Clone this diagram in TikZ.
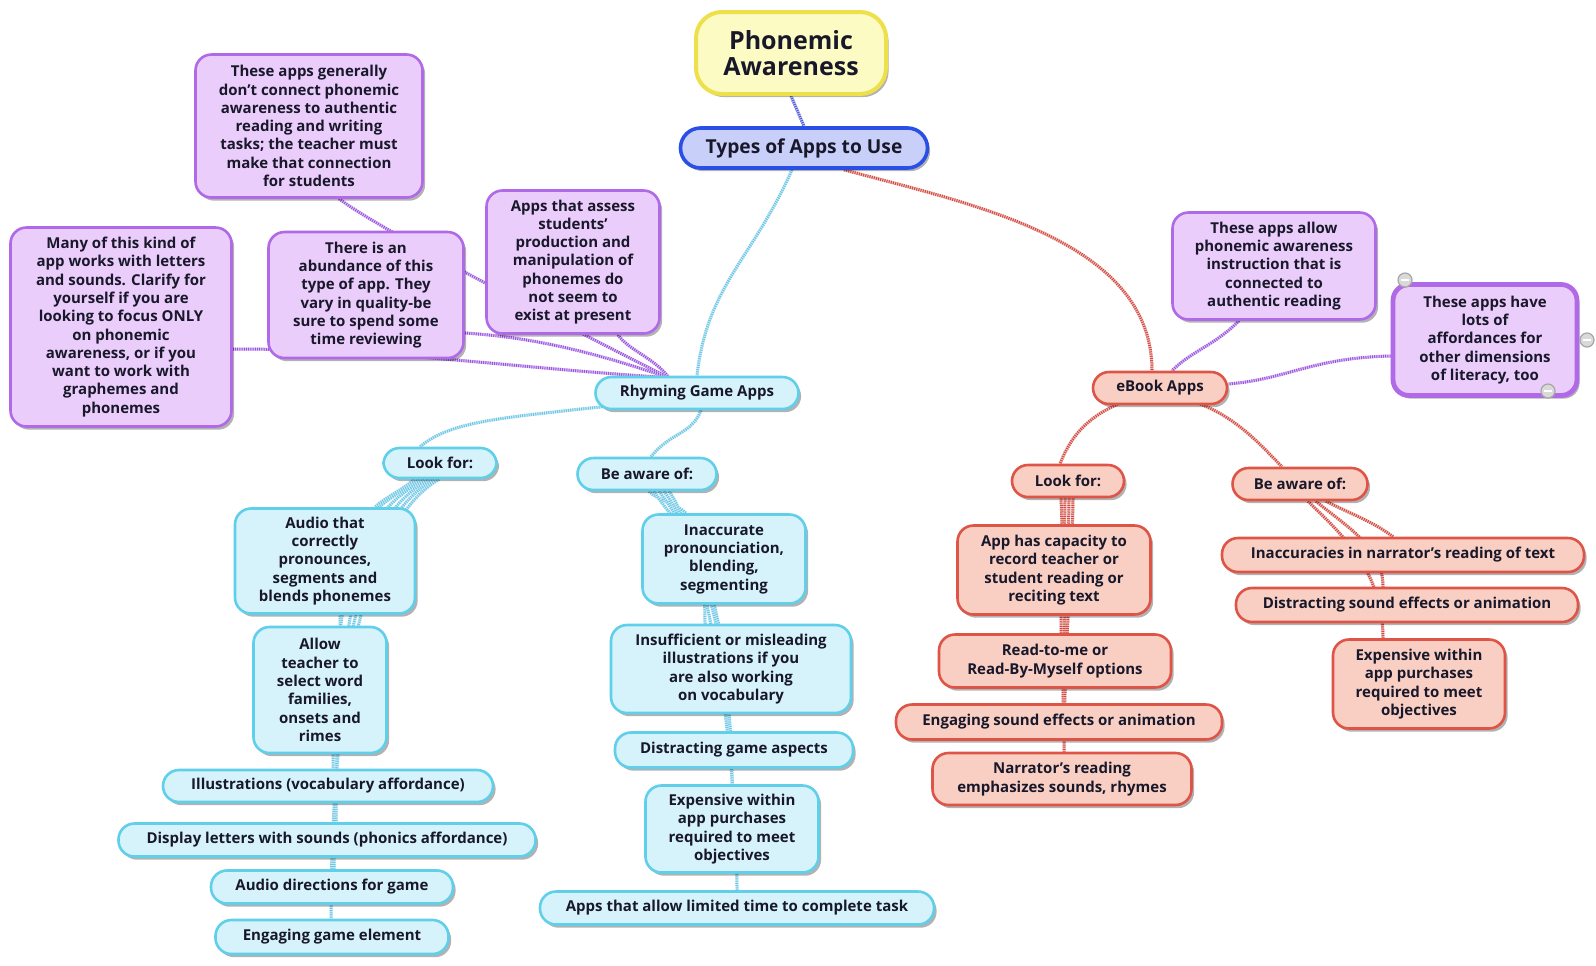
\documentclass[tikz,border=0pt]{standalone}
\usepackage{fontspec}
\setmainfont{Open Sans}
\usetikzlibrary{shadows,calc}

\definecolor{txt}{HTML}{18182A}
\definecolor{yfill}{HTML}{FDFBC4}
\definecolor{yline}{HTML}{EDE04A}
\definecolor{bfill}{HTML}{C8CFF9}
\definecolor{bline}{HTML}{2A4FE6}
\definecolor{cfill}{HTML}{D6F3FB}
\definecolor{cline}{HTML}{5FCFEA}
\definecolor{rfill}{HTML}{F9CFC3}
\definecolor{rline}{HTML}{DE5548}
\definecolor{pfill}{HTML}{EBCDFB}
\definecolor{pline}{HTML}{B06AE8}
\definecolor{ccon}{HTML}{6CC6E6}
\definecolor{rcon}{HTML}{D24A40}
\definecolor{pcon}{HTML}{9B55E0}
\definecolor{bcon}{HTML}{4A5AD6}

\pgfdeclarelayer{paper}
\pgfdeclarelayer{links}
\pgfsetlayers{paper,links,main}

\tikzset{
  box/.style={draw, line width=1.3pt, rounded corners=8pt, align=center, inner sep=0pt,
    text=txt, font=\bfseries\fontsize{7.5}{9.15}\selectfont,
    drop shadow={shadow xshift=1.3pt, shadow yshift=-1.6pt, opacity=.3, fill=black}},
  sz/.style 2 args={minimum width=#1*0.5pt, minimum height=#2*0.5pt},
  cy/.style={box, fill=cfill, draw=cline},
  rd/.style={box, fill=rfill, draw=rline},
  pu/.style={box, fill=pfill, draw=pline},
  conn/.style={line width=1.5pt, draw=#1!35,
    postaction={draw=#1, line width=1.5pt, dash pattern=on 0.5pt off 0.6pt}},
  knob/.style={circle, draw=gray!70, fill=gray!30, line width=0.6pt, minimum size=7pt, inner sep=0pt}
}

\begin{document}
\begin{tikzpicture}[x=0.5pt,y=-0.5pt]
\useasboundingbox (0,0) rectangle (1596,965);
\begin{pgfonlayer}{paper}
  \fill[white] (0,0) rectangle (1596,965);
\end{pgfonlayer}

% central topic and main branch
\node[box, fill=yfill, draw=yline, line width=2pt, rounded corners=13pt, sz={190}{82},
      font=\bfseries\fontsize{12.5}{13}\selectfont] (pa) at (791,53) {Phonemic\\Awareness};
\node[box, fill=bfill, draw=bline, line width=1.8pt, rounded corners=10pt, sz={247}{40},
      font=\bfseries\fontsize{9.6}{11}\selectfont] (types) at (804,148) {Types of Apps to Use};

\path
  node[cy, sz={203}{32}] (rhy) at (697,393) {Rhyming Game Apps}
  node[rd, sz={134}{32}] (eb) at (1160,388) {eBook Apps}
  % notes around the rhyming branch
  node[pu, sz={227}{143}] (p1) at (309,126) {These apps generally\\don't connect phonemic\\awareness to authentic\\reading and writing\\tasks; the teacher must\\make that connection\\for students}
  node[pu, sz={221}{199}] (p2) at (121,327) {Many of this kind of\\app works with letters\\and sounds. Clarify for\\yourself if you are\\looking to focus ONLY\\on phonemic\\awareness, or if you\\want to work with\\graphemes and\\phonemes}
  node[pu, sz={195}{126}] (p3) at (366,295) {There is an\\abundance of this\\type of app. They\\vary in quality-be\\sure to spend some\\time reviewing}
  node[pu, sz={173}{143}] (p4) at (573,262) {Apps that assess\\students'\\production and\\manipulation of\\phonemes do\\not seem to\\exist at present}
  % notes around the eBook branch
  node[pu, sz={203}{107}] (p5) at (1274,266) {These apps allow\\phonemic awareness\\instruction that is\\connected to\\authentic reading}
  node[pu, line width=2.4pt, sz={184}{111}] (p6) at (1485,340) {These apps have\\lots of\\affordances for\\other dimensions\\of literacy, too}
  % rhyming: look for
  node[cy, sz={113}{30}] (lf) at (440,463) {Look for:}
  node[cy, sz={180}{105}] (a1) at (325,561) {Audio that\\correctly\\pronounces,\\segments and\\blends phonemes}
  node[cy, sz={133}{126}] (a2) at (320,690) {Allow\\teacher to\\select word\\families,\\onsets and\\rimes}
  node[cy, sz={330}{32}] (a3) at (328,786) {Illustrations (vocabulary affordance)}
  node[cy, sz={417}{33}] (a4) at (327,840) {Display letters with sounds (phonics affordance)}
  node[cy, sz={242}{33}] (a5) at (332,887) {Audio directions for game}
  node[cy, sz={233}{34}] (a6) at (332,937) {Engaging game element}
  % rhyming: be aware of
  node[cy, sz={139}{32}] (ba) at (647,474) {Be aware of:}
  node[cy, sz={163}{89}] (b1) at (724,559) {Inaccurate\\pronounciation,\\blending,\\segmenting}
  node[cy, sz={240}{88}] (b2) at (731,669) {Insufficient or misleading\\illustrations if you\\are also working\\on vocabulary}
  node[cy, sz={238}{35}] (b3) at (734,750) {Distracting game aspects}
  node[cy, sz={173}{87}] (b4) at (732,829) {Expensive within\\app purchases\\required to meet\\objectives}
  node[cy, sz={394}{33}] (b5) at (737,908) {Apps that allow limited time to complete task}
  % eBook: look for
  node[rd, sz={112}{32}] (rl) at (1068,481) {Look for:}
  node[rd, sz={193}{89}] (r1) at (1054,570) {App has capacity to\\record teacher or\\student reading or\\reciting text}
  node[rd, sz={232}{53}] (r2) at (1055,661) {Read-to-me or\\Read-By-Myself options}
  node[rd, sz={326}{35}] (r3) at (1059,722) {Engaging sound effects or animation}
  node[rd, sz={259}{52}] (r4) at (1062,779) {Narrator's reading\\emphasizes sounds, rhymes}
  % eBook: be aware of
  node[rd, sz={135}{32}] (rb) at (1300,484) {Be aware of:}
  node[rd, sz={362}{34}] (s1) at (1403,555) {Inaccuracies in narrator's reading of text}
  node[rd, sz={342}{34}] (s2) at (1407,605) {Distracting sound effects or animation}
  node[rd, sz={172}{89}] (s3) at (1419,684) {Expensive within\\app purchases\\required to meet\\objectives};

% collapse knobs on the selected note
\node[knob] (k1) at (1405,280) {};
\node[knob] (k2) at (1587,340) {};
\node[knob] (k3) at (1548,391) {};
\foreach \k in {k1,k2,k3} \draw[white, line width=0.6pt] ($(\k)+(-4,0)$) -- ($(\k)+(4,0)$);

\begin{pgfonlayer}{links}
  % trunk
  \draw[conn=bcon] (pa.south) -- (types.north);
  \draw[conn=ccon] ($(types.south)+(-12,0)$) .. controls +(-40,90) and +(10,-90) .. (rhy.north);
  \draw[conn=rcon] ($(types.south)+(40,0)$) .. controls +(130,35) and +(0,-130) .. ($(eb.north)+(-8,0)$);
  % notes to the rhyming branch
  \coordinate (rin) at ($(rhy.north)+(-28,2)$);
  \draw[conn=pcon] ($(p1.south)+(30,0)$) .. controls +(40,30) and +(-120,-60) .. (rin);
  \draw[conn=pcon] ($(p2.east)+(0,22)$) .. controls +(160,0) and +(-160,-10) .. (rin);
  \draw[conn=pcon] ($(p3.east)+(0,38)$) .. controls +(80,5) and +(-60,-20) .. (rin);
  \draw[conn=pcon] ($(p4.south)+(45,0)$) .. controls +(10,15) and +(-15,-20) .. (rin);
  % notes to the eBook branch
  \draw[conn=pcon] ($(p5.south)+(-35,0)$) .. controls +(-25,25) and +(20,-20) .. ($(eb.north)+(12,0)$);
  \draw[conn=pcon] ($(p6.west)+(0,16)$) .. controls +(-80,2) and +(60,-5) .. ($(eb.east)+(0,-4)$);
  % rhyming branch
  \draw[conn=ccon] ($(rhy.south west)+(12,-4)$) .. controls +(-110,12) and +(30,-25) .. ($(lf.north)+(-20,0)$);
  \draw[conn=ccon] ($(rhy.south)+(4,0)$) .. controls +(-10,25) and +(20,-25) .. ($(ba.north)+(4,0)$);
  % look for (rhyming)
  \draw[conn=ccon] ($(lf.south)+(-26,0)$) .. controls +(-10,10) and +(10,-10) .. ($(a1.north)+(50,0)$);
  \draw[conn=ccon] ($(lf.south)+(-21,0)$) .. controls +(-60,40) and +(0,-100) .. ($(a2.north)+(20,0)$);
  \draw[conn=ccon] ($(lf.south)+(-16,0)$) .. controls +(-70,40) and +(0,-180) .. ($(a3.north)+(5,0)$);
  \draw[conn=ccon] ($(lf.south)+(-11,0)$) .. controls +(-70,40) and +(0,-200) .. ($(a4.north)+(9,0)$);
  \draw[conn=ccon] ($(lf.south)+(-6,0)$) .. controls +(-70,40) and +(0,-220) .. ($(a5.north)+(2,0)$);
  \draw[conn=ccon] ($(lf.south)+(-1,0)$) .. controls +(-70,40) and +(0,-240) .. ($(a6.north)+(-1,0)$);
  % be aware of (rhyming)
  \draw[conn=ccon] ($(ba.south)+(2,0)$) .. controls +(10,10) and +(-10,-10) .. ($(b1.north)+(-38,0)$);
  \draw[conn=ccon] ($(ba.south)+(7,0)$) .. controls +(25,40) and +(0,-90) .. ($(b2.north)+(-26,0)$);
  \draw[conn=ccon] ($(ba.south)+(12,0)$) .. controls +(30,40) and +(0,-140) .. ($(b3.north)+(-6,0)$);
  \draw[conn=ccon] ($(ba.south)+(17,0)$) .. controls +(30,40) and +(0,-150) .. ($(b4.north)+(0,0)$);
  \draw[conn=ccon] ($(ba.south)+(22,0)$) .. controls +(30,40) and +(0,-170) .. ($(b5.north)+(0,0)$);
  % eBook branch
  \draw[conn=rcon] ($(eb.south west)+(28,-2)$) .. controls +(-35,15) and +(10,-25) .. ($(rl.north)+(-8,0)$);
  \draw[conn=rcon] ($(eb.south east)+(-30,-2)$) .. controls +(40,15) and +(-20,-20) .. ($(rb.north)+(-18,0)$);
  % look for (eBook)
  \draw[conn=rcon] ($(rl.south)+(-7,0)$) -- ($(r1.north)+(8,0)$);
  \draw[conn=rcon] ($(rl.south)+(-3,0)$) .. controls +(0,40) and +(0,-60) .. ($(r2.north)+(6,0)$);
  \draw[conn=rcon] ($(rl.south)+(1,0)$) .. controls +(0,40) and +(0,-80) .. ($(r3.north)+(4,0)$);
  \draw[conn=rcon] ($(rl.south)+(5,0)$) .. controls +(0,40) and +(0,-90) .. ($(r4.north)+(2,0)$);
  % be aware of (eBook)
  \draw[conn=rcon] ($(rb.south)+(26,0)$) .. controls +(30,15) and +(-20,-15) .. ($(s1.north)+(-10,0)$);
  \draw[conn=rcon] ($(rb.south)+(16,0)$) .. controls +(30,25) and +(0,-40) .. ($(s2.north)+(-24,0)$);
  \draw[conn=rcon] ($(rb.south)+(8,0)$) .. controls +(30,30) and +(0,-70) .. ($(s3.north)+(-36,0)$);
\end{pgfonlayer}
\end{tikzpicture}
\end{document}
